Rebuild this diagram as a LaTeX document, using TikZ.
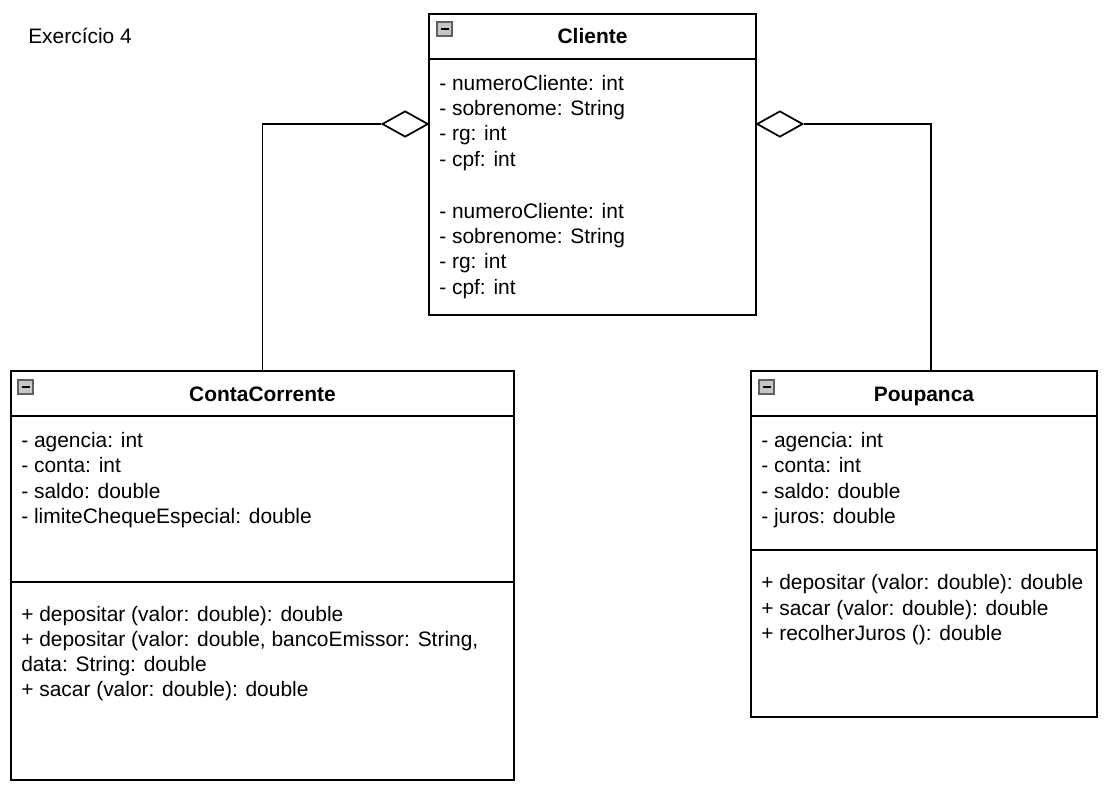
\documentclass[tikz,border=0pt]{standalone}
\usepackage{fontspec}
\setmainfont{Liberation Sans}
\usepackage{tikz}
\usetikzlibrary{fit,shapes.geometric}

\tikzset{
  frame/.style={draw=black, line width=1.3pt},
  classbox/.style={frame, fill=white, inner sep=0pt},
  member/.style={anchor=base west, inner sep=0pt},
  classtitle/.style={anchor=base, inner sep=0pt, font=\fontsize{15.7}{18}\selectfont\bfseries},
  aggr/.style={frame, fill=white, diamond, inner sep=0pt, minimum width=34.5pt, minimum height=19.5pt},
  iconbox/.style={fill=gray!45, draw=gray!75!black, line width=0.9pt}
}

\begin{document}
\begin{tikzpicture}[x=0.75pt, y=-0.75pt, font=\fontsize{15.7}{18}\selectfont]
  \useasboundingbox (0,0) rectangle (1109,794);

  % class box: name, corners, bottom of the header
  \def\umlClass#1#2#3#4#5#6{
    \node[classbox, fit={(#2,#3) (#4,#5)}] (#1) {};
    \draw[frame] (#2,#6) -- (#4,#6);
  }
  % small collapse icon in the header
  \def\collapseIcon#1#2{
    \draw[iconbox] (#1,#2) rectangle ++(15,14);
    \draw[line width=2pt] (#1+3.5,#2+7) -- (#1+11.5,#2+7);
  }

  \node[member] (title) at (28,43) {Exercício 4};

  % Cliente
  \umlClass{cliente}{429}{14}{756}{315}{59}
  \collapseIcon{437}{22}
  \node[classtitle] (cliT) at (592.5,43.5) {Cliente};
  \foreach \s [count=\i from 0] in {- numeroCliente: int, - sobrenome: String, - rg: int, - cpf: int} {
    \node[member] (cliA\i) at (439,{90.5+25.2*\i}) {\s};
  }
  \foreach \s [count=\i from 0] in {- numeroCliente: int, - sobrenome: String, - rg: int, - cpf: int} {
    \node[member] (cliB\i) at (439,{218.5+25.2*\i}) {\s};
  }

  % ContaCorrente
  \umlClass{conta}{11}{371}{514}{780}{416}
  \draw[frame] (11,582) -- (514,582);
  \collapseIcon{18}{380}
  \node[classtitle] (contaT) at (262.5,401.5) {ContaCorrente};
  \foreach \s [count=\i from 0] in {- agencia: int, - conta: int, - saldo: double, - limiteChequeEspecial: double} {
    \node[member] (contaA\i) at (21,{447.5+25.3*\i}) {\s};
  }
  \foreach \s [count=\i from 0] in {+ depositar (valor: double): double,
      {+ depositar (valor: double, bancoEmissor: String,}, data: String: double,
      + sacar (valor: double): double} {
    \node[member] (contaM\i) at (21,{621.5+25*\i}) {\s};
  }

  % Poupanca
  \umlClass{poup}{751}{371}{1097}{717}{416}
  \draw[frame] (751,550) -- (1097,550);
  \collapseIcon{759}{380}
  \node[classtitle] (poupT) at (924,401.5) {Poupanca};
  \foreach \s [count=\i from 0] in {- agencia: int, - conta: int, - saldo: double, - juros: double} {
    \node[member] (poupA\i) at (761,{447.5+25.3*\i}) {\s};
  }
  \foreach \s [count=\i from 0] in {+ depositar (valor: double): double,
      + sacar (valor: double): double, + recolherJuros (): double} {
    \node[member] (poupM\i) at (761,{589.5+25.5*\i}) {\s};
  }

  % aggregations
  \node[aggr, anchor=east] (aggL) at (429,124) {};
  \node[aggr, anchor=west] (aggR) at (756,124) {};
  \coordinate (poupTop) at (931,371);
  \draw[frame] (conta.north) |- (aggL.west);
  \draw[frame] (poupTop) |- (aggR.east);
\end{tikzpicture}
\end{document}
